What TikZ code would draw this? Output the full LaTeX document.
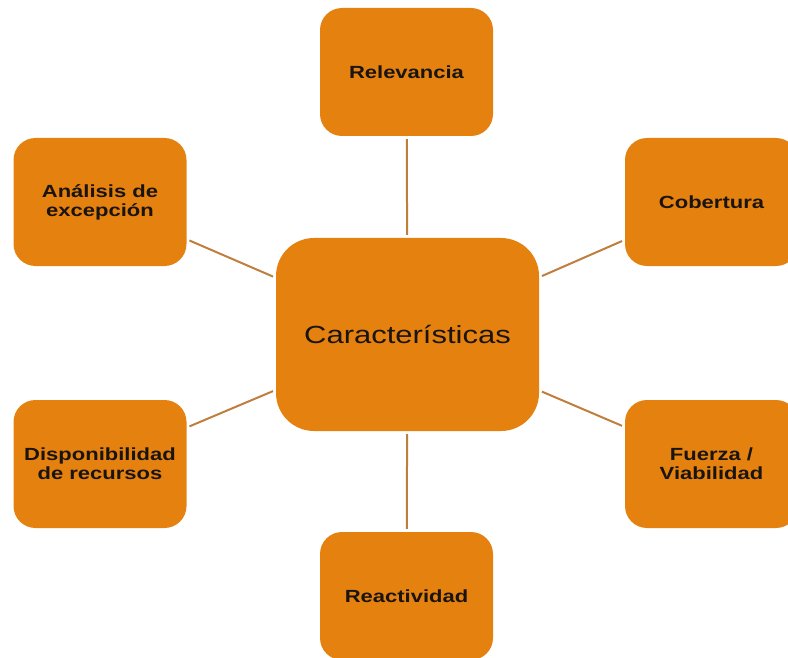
\documentclass[tikz,border=0pt]{standalone}
\usepackage{fontspec}
\newfontfamily\boxfont[FakeStretch=1.25]{Liberation Sans}
\definecolor{boxfill}{HTML}{E5820F}
\definecolor{linkcol}{HTML}{BE7F3E}
\definecolor{txtcol}{HTML}{1A1410}
\begin{document}
\begin{tikzpicture}[x=1pt,y=-1pt,
  leaf/.style={draw=none,fill=boxfill,rounded corners=22pt,minimum width=173pt,minimum height=128pt,
    align=center,text=txtcol,font=\boxfont\bfseries\fontsize{17.6}{19}\selectfont,inner sep=0pt},
  hub/.style={draw=none,fill=boxfill,rounded corners=38pt,minimum width=263pt,minimum height=193pt,
    align=center,text=txtcol,font=\boxfont\fontsize{24.8}{28}\selectfont,inner sep=0pt},
  link/.style={draw=linkcol,line width=2pt,shorten >=3pt,shorten <=3pt}]
\useasboundingbox (0,0) rectangle (788,658);
\clip (0,0) rectangle (788,658);
\node[hub] (c) at (407.5,334.5) {Características};
\node[leaf] (rel) at (406.5,72) {Relevancia};
\node[leaf] (ana) at (100,202) {Análisis de\\excepción};
\node[leaf] (cob) at (711.5,202) {Cobertura};
\node[leaf] (dis) at (100,464) {Disponibilidad\\de recursos};
\node[leaf] (fue) at (711.5,464) {Fuerza /\\Viabilidad};
\node[leaf] (rea) at (406.5,596) {Reactividad};
\draw[link] (rel) -- (c);
\draw[link] (ana) -- (c);
\draw[link] (cob) -- (c);
\draw[link] (dis) -- (c);
\draw[link] (fue) -- (c);
\draw[link] (rea) -- (c);
\end{tikzpicture}
\end{document}
